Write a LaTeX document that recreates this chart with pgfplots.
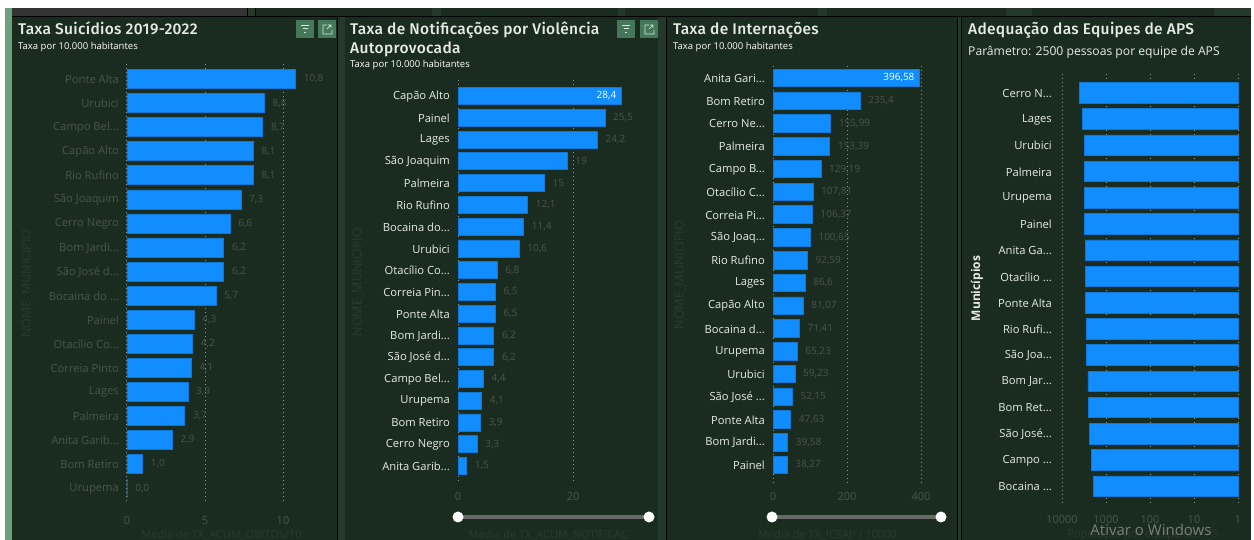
\documentclass[border=0pt]{standalone}
\usepackage{fontspec}
\usepackage{pgfplots}
\usepackage{pgfplotstable}
\pgfplotsset{compat=1.18}
\setmainfont{Open Sans}
\newfontfamily\titlefont[LetterSpace=2]{Fira Sans Medium}

\definecolor{panel}{HTML}{1A2C20}
\definecolor{gap}{HTML}{24392C}
\definecolor{strip}{HTML}{6FA07C}
\definecolor{barblue}{HTML}{118DFF}
\definecolor{barline}{HTML}{0F78D6}
\definecolor{dimtxt}{HTML}{4A544C}
\definecolor{fainttxt}{HTML}{2A392E}
\definecolor{gridc}{HTML}{8E9A90}
\definecolor{lighttxt}{HTML}{E6EBE6}
\definecolor{btn}{HTML}{45785A}
\definecolor{carvao}{HTML}{333333}
\definecolor{trilho}{HTML}{666A66}

\pgfplotstableread{
name val lab
{Ponte Alta} 10.8 10,8
{Urubici} 8.8 8,8
{Campo Bel...} 8.7 8,7
{Capão Alto} 8.1 8,1
{Rio Rufino} 8.1 8,1
{São Joaquim} 7.3 7,3
{Cerro Negro} 6.6 6,6
{Bom Jardi...} 6.2 6,2
{São José d...} 6.2 6,2
{Bocaina do ...} 5.7 5,7
{Painel} 4.3 4,3
{Otacílio Co...} 4.2 4,2
{Correia Pinto} 4.1 4,1
{Lages} 3.9 3,9
{Palmeira} 3.7 3,7
{Anita Garib...} 2.9 2,9
{Bom Retiro} 1.0 1,0
{Urupema} 0.0 0,0
}\suicidios

\pgfplotstableread{
name val lab
{Capão Alto} 28.4 28,4
{Painel} 25.5 25,5
{Lages} 24.2 24,2
{São Joaquim} 19 19
{Palmeira} 15 15
{Rio Rufino} 12.1 12,1
{Bocaina do...} 11.4 11,4
{Urubici} 10.6 10,6
{Otacílio Co...} 6.8 6,8
{Correia Pin...} 6.5 6,5
{Ponte Alta} 6.5 6,5
{Bom Jardi...} 6.2 6,2
{São José d...} 6.2 6,2
{Campo Bel...} 4.4 4,4
{Urupema} 4.1 4,1
{Bom Retiro} 3.9 3,9
{Cerro Negro} 3.3 3,3
{Anita Garib...} 1.5 1,5
}\notificacoes

\pgfplotstableread{
name val lab
{Anita Gari...} 396.58 396,58
{Bom Retiro} 235.4 235,4
{Cerro Ne...} 155.99 155,99
{Palmeira} 153.39 153,39
{Campo B...} 129.19 129,19
{Otacílio C...} 107.81 107,81
{Correia Pi...} 106.37 106,37
{São Joaq...} 100.65 100,65
{Rio Rufino} 92.59 92,59
{Lages} 86.6 86,6
{Capão Alto} 81.07 81,07
{Bocaina d...} 71.41 71,41
{Urupema} 65.23 65,23
{Urubici} 59.23 59,23
{São José ...} 52.15 52,15
{Ponte Alta} 47.63 47,63
{Bom Jardi...} 39.58 39,58
{Painel} 38.27 38,27
}\internacoes

\pgfplotstableread{
name val
{Cerro N...} 4100
{Lages} 3450
{Urubici} 3160
{Palmeira} 3150
{Urupema} 3100
{Painel} 3050
{Anita Ga...} 3000
{Otacílio ...} 2980
{Ponte Alta} 2890
{Rio Rufi...} 2800
{São Joa...} 2750
{Bom Jar...} 2570
{Bom Ret...} 2470
{São José...} 2430
{Campo ...} 2150
{Bocaina ...} 1950
}\equipes

\pgfplotsset{
  painel/.style={
    scale only axis, anchor=south west,
    xbar, y dir=reverse, bar shift=0pt,
    axis line style={draw=none},
    major tick length=0pt, minor tick length=0pt,
    xmajorgrids, ymajorgrids=false,
    grid style={gridc, dash pattern=on 1pt off 3pt, line width=1pt},
    ytick=data,
    enlargelimits=false, clip=false,
    /pgf/number format/assume math mode=true,
    x tick label style={font=\fontsize{11}{13}\selectfont, text=dimtxt, inner sep=0pt},
    y tick label style={font=\fontsize{11.2}{13}\selectfont, inner sep=0pt, xshift=-8pt, yshift=-0.5pt},
    xlabel style={at={(axis description cs:0.5,0)}, anchor=center, text=fainttxt, font=\fontsize{11}{13}\selectfont},
    ylabel style={at={(axis description cs:0,0.5)}, anchor=center, text=fainttxt, font=\fontsize{12.5}{14}\selectfont},
  },
  barras/.style={
    fill=barblue, draw=barline, line width=0.6pt,
  },
  rotulos/.style={
    point meta=explicit symbolic,
    nodes near coords,
    every node near coord/.append style={inner sep=0pt, font=\fontsize{10}{12}\selectfont},
    coordinate style/.condition={x<=#1}{anchor=west, text=dimtxt, xshift=8pt},
    coordinate style/.condition={x>#1}{anchor=east, text=white, xshift=-5pt},
  },
}

\begin{document}
\begin{tikzpicture}[x=1pt,y=1pt]
\useasboundingbox (0,0) rectangle (1254,540);
\fill[white] (0,0) rectangle (1254,540);
% fundos
\fill[strip] (5,0) rectangle (12,532);
\fill[gap] (12,0) rectangle (1251,532);
\fill[panel] (12,0) rectangle (337,523);
\fill[panel] (345,0) rectangle (658,523);
\fill[panel] (667,0) rectangle (957,523);
\fill[panel] (962,0) rectangle (1251,523);
\fill[black] (12,522.5) rectangle (1251,523.5);
\fill[black] (337,0) rectangle (338,523);
\fill[black] (666,0) rectangle (667,523);
\fill[black] (957,0) rectangle (958,523);
\fill[black] (961,0) rectangle (962,523);
% faixa superior
\fill[panel] (255,523.5) rectangle (432,532);
\fill[panel] (441,523.5) rectangle (618,532);
\fill[panel] (625,523.5) rectangle (818,532);
\fill[panel] (827,523.5) rectangle (1006,532);
\fill[panel] (1032,523.5) rectangle (1214,532);
\fill[black] (247,523) rectangle (248,532);
\fill[black] (254.5,523) rectangle (255.5,532);
\fill[carvao] (13,524) rectangle (247,532);

% slicers
\foreach \a/\b in {458/649,772/941}{
  \draw[line width=4pt, trilho] (\a,23) -- (\b,23);
  \fill[white] (\a,23) circle (5.5);
  \fill[white] (\b,23) circle (5.5);
}
% botoes
\foreach \a in {296,617}{
  \fill[btn] (\a,502) rectangle ++(18,18);
  \draw[white!80!btn, line width=0.7pt] (\a+5,515) -- ++(8,0) (\a+6.5,511.5) -- ++(5,0) (\a+8,508) -- ++(2,0);
}
\foreach \a in {318,640}{
  \fill[btn] (\a,502) rectangle ++(18,18);
  \draw[white!80!btn, line width=0.7pt] (\a+9,515) -- ++(-4,0) -- ++(0,-9) -- ++(9,0) -- ++(0,4)
    (\a+9,511) -- ++(4,4) (\a+10,515) -- ++(3,0) -- ++(0,-3);
}

% titulos
\node[anchor=base west, inner sep=0pt, text=lighttxt, font=\titlefont\fontsize{15.5}{18}\selectfont] at (18,505) {Taxa Suicídios 2019-2022};
\node[anchor=base west, inner sep=0pt, text=white, font=\fontsize{9.5}{11}\selectfont] at (18,490) {Taxa por 10.000 habitantes};
\node[anchor=base west, inner sep=0pt, text=lighttxt, font=\titlefont\fontsize{15.5}{18}\selectfont] at (350,505) {Taxa de Notificações por Violência};
\node[anchor=base west, inner sep=0pt, text=lighttxt, font=\titlefont\fontsize{15.5}{18}\selectfont] at (350,486) {Autoprovocada};
\node[anchor=base west, inner sep=0pt, text=white, font=\fontsize{9.5}{11}\selectfont] at (350,472) {Taxa por 10.000 habitantes};
\node[anchor=base west, inner sep=0pt, text=lighttxt, font=\titlefont\fontsize{15.5}{18}\selectfont] at (673,505) {Taxa de Internações};
\node[anchor=base west, inner sep=0pt, text=white, font=\fontsize{9.5}{11}\selectfont] at (673,490) {Taxa por 10.000 habitantes};
\node[anchor=base west, inner sep=0pt, text=lighttxt, font=\titlefont\fontsize{15.5}{18}\selectfont] at (968,505) {Adequação das Equipes de APS};
\node[anchor=base west, inner sep=0pt, text=lighttxt, font=\fontsize{12.15}{14}\selectfont] at (968,484) {Parâmetro: 2500 pessoas por equipe de APS};

% Taxa de suicidios
\begin{axis}[painel, at={(127pt,37pt)}, width=181pt, height=439pt,
  xmin=0, xmax=11.6, ymin=-0.623, ymax=17.62, bar width=19pt,
  xtick={0,5,10}, yticklabels from table={\suicidios}{name},
  y tick label style={text=dimtxt},
  x tick label style={yshift=-13pt},
  ylabel={NOME\_MUNICIPIO}, ylabel style={yshift=100pt},
  xlabel={Média de TX\_ACUM\_OBITOS/10}, xlabel style={xshift=4pt, yshift=-32pt},
]
\addplot[barras, rotulos=20] table[x=val, y expr=\coordindex, meta=lab] {\suicidios};
\end{axis}

% Taxa de notificacoes
\begin{axis}[painel, at={(458pt,56pt)}, width=172.8pt, height=404pt,
  xmin=0, xmax=30, ymin=-0.735, ymax=17.83, bar width=17pt,
  xtick={0,20}, yticklabels from table={\notificacoes}{name},
  y tick label style={text=lighttxt},
  x tick label style={yshift=-8pt},
  ylabel={NOME\_MUNICIPIO}, ylabel style={yshift=100pt},
  xlabel={Média de TX\_ACUM\_NOTIFICAC}, xlabel style={xshift=4pt, yshift=-51pt},
]
\addplot[barras, rotulos=28] table[x=val, y expr=\coordindex, meta=lab] {\notificacoes};
\end{axis}

% Taxa de internacoes
\begin{axis}[painel, at={(773pt,56pt)}, width=159.1pt, height=418pt,
  xmin=0, xmax=430, ymin=-0.527, ymax=17.84, bar width=17.5pt,
  xtick={0,200,400}, yticklabels from table={\internacoes}{name},
  y tick label style={text=lighttxt},
  x tick label style={yshift=-8pt},
  ylabel={NOME\_MUNICIPIO}, ylabel style={yshift=93pt},
  xlabel={Média de TX\_ICSAP / 10000}, xlabel style={xshift=-25pt, yshift=-51pt},
]
\addplot[barras, rotulos=390] table[x=val, y expr=\coordindex, meta=lab] {\internacoes};
\end{axis}

% Adequacao das equipes
\begin{axis}[painel, at={(1062pt,37pt)}, width=176pt, height=429pt,
  xmode=log, x dir=reverse,
  xmin=1, xmax=10000, ymin=-0.713, ymax=15.64, bar width=20.5pt,
  xtick={1,10,100,1000,10000}, xticklabels={1,10,100,1000,10000},
  yticklabels from table={\equipes}{name},
  y tick label style={text=lighttxt, xshift=-2pt},
  x tick label style={yshift=-12pt},
  ylabel={\bfseries Municípios}, ylabel style={yshift=85pt, text=lighttxt, font=\fontsize{12}{14}\selectfont},
  xlabel={População por equipe de APS}, xlabel style={xshift=-7pt, yshift=-32pt},
]
\addplot[barras] table[x=val, y expr=\coordindex] {\equipes};
\end{axis}

\node[anchor=center, inner sep=0pt, text=white!40!panel, font=\fontsize{15}{17}\selectfont] at (1151,10) {Ativar o Windows};
\end{tikzpicture}
\end{document}
